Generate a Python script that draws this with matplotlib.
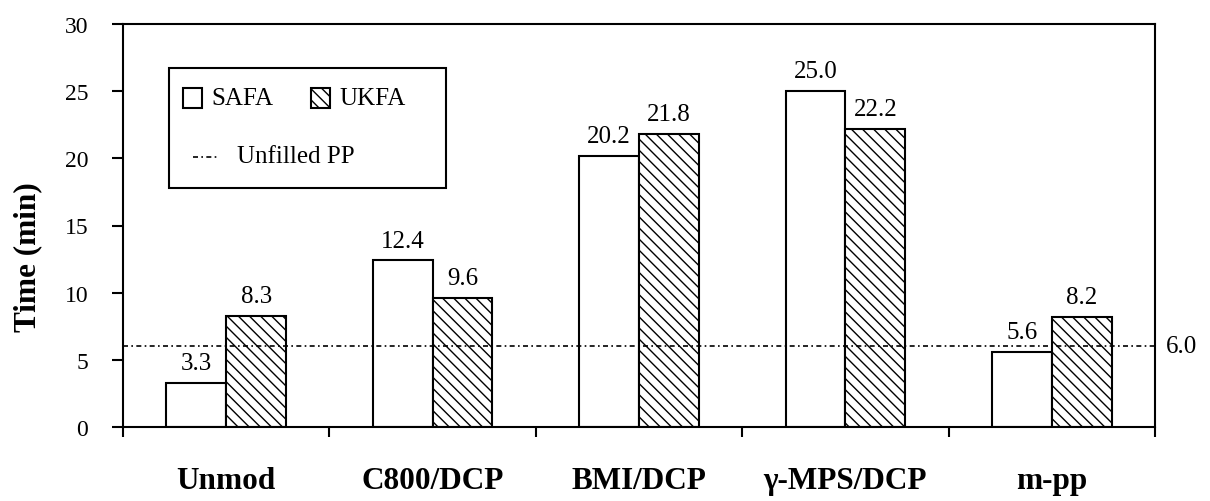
import matplotlib
matplotlib.use("Agg")
import matplotlib.pyplot as plt
from matplotlib.patches import Rectangle
from matplotlib.lines import Line2D
import numpy as np

categories = ["Unmod", "C800/DCP", "BMI/DCP", "γ-MPS/DCP", "m-pp"]
safa = [3.3, 12.4, 20.2, 25.0, 5.6]
ukfa = [8.3, 9.6, 21.8, 22.2, 8.2]
unfilled_pp = 6.0
yticks = [0, 5, 10, 15, 20, 25, 30]

plt.rcParams['font.family'] = ['Liberation Serif', 'DejaVu Serif']
plt.rcParams['hatch.linewidth'] = 1.0

W, H = 1210, 502
fig = plt.figure(figsize=(W/100, H/100), dpi=100)
ax = fig.add_axes([123/W, 1-428/H, (1155-123)/W, (428-25)/H])

HATCH = '\\\\\\'
DASH = (0, (3, 2, 1, 2))

n = len(categories)
centers = np.arange(n) + 0.5
w = 0.29
ax.bar(centers - w/2, safa, w, facecolor='white', edgecolor='black', linewidth=1.5, label='SAFA', zorder=2)
ax.bar(centers + w/2, ukfa, w, facecolor='white', edgecolor='black', linewidth=1.5, hatch=HATCH, label='UKFA', zorder=2)

ax.axhline(unfilled_pp, color='black', linewidth=1.2, linestyle=DASH, zorder=3)
ax.text(1.011, unfilled_pp, f"{unfilled_pp:.1f}", transform=ax.get_yaxis_transform(),
        ha='left', va='center', fontsize=18)

for xs, vals in ((centers - w/2, safa), (centers + w/2, ukfa)):
    for x, v in zip(xs, vals):
        ax.annotate(f"{v:.1f}", (x, v), xytext=(0, 10), textcoords='offset points',
                    ha='center', va='baseline', fontsize=18)

ax.set_xlim(0, n)
ax.set_ylim(0, 30)
ax.set_yticks(yticks)
ax.set_xticks(np.arange(n + 1))
ax.set_xticklabels([])
ax.set_xticks(centers, minor=True)
ax.set_xticklabels(categories, minor=True, fontsize=22.5, fontweight='bold')
ax.tick_params(axis='x', which='minor', length=0, pad=28)
ax.tick_params(axis='x', which='major', direction='out', length=7.5, width=1.5)
ax.tick_params(axis='y', direction='out', length=8, width=1.5, pad=17, labelsize=17)
ax.set_ylabel("Time (min)", fontsize=22.5, fontweight='bold')
ax.yaxis.set_label_coords((42-123)/1032, 0.423)

for s in ax.spines.values():
    s.set_linewidth(1.5)

# legend drawn manually in figure pixel coordinates
def fx(px):
    return px / W

def fy(py):
    return 1 - py / H

fig.patches.append(Rectangle((fx(169), fy(189)), fx(446) - fx(169), fy(69) - fy(189),
                             transform=fig.transFigure, facecolor='white', edgecolor='black',
                             linewidth=1.5, zorder=5))
fig.patches.append(Rectangle((fx(183), fy(109)), fx(202) - fx(183), fy(89) - fy(109),
                             transform=fig.transFigure, facecolor='white', edgecolor='black',
                             linewidth=1.5, zorder=6))
fig.patches.append(Rectangle((fx(311), fy(109)), fx(330) - fx(311), fy(89) - fy(109),
                             transform=fig.transFigure, facecolor='white', edgecolor='black',
                             linewidth=1.5, hatch=HATCH, zorder=6))
fig.lines.append(Line2D([fx(193), fx(219)], [fy(158), fy(158)], transform=fig.transFigure,
                        color='black', linewidth=1.2, linestyle=DASH, zorder=6))
fig.text(fx(211), fy(99), "SAFA", ha='left', va='center', fontsize=18, zorder=7)
fig.text(fx(339), fy(99), "UKFA", ha='left', va='center', fontsize=18, zorder=7)
fig.text(fx(237), fy(157), "Unfilled PP", ha='left', va='center', fontsize=18, zorder=7)

fig.savefig("out.png", dpi=100)
